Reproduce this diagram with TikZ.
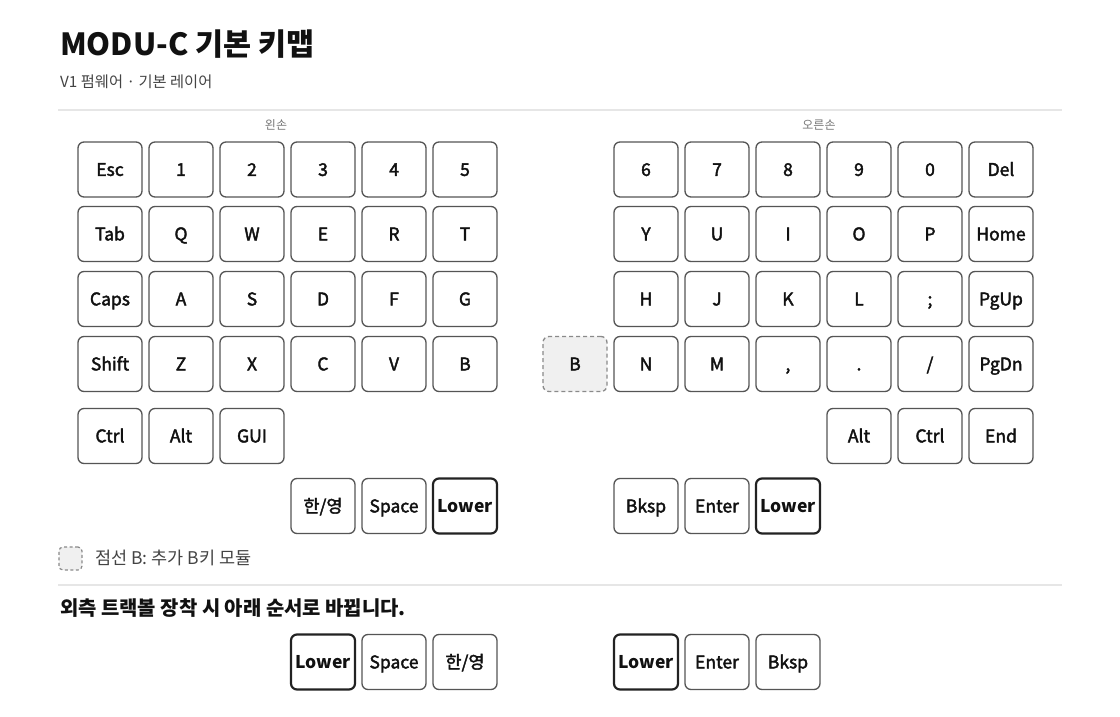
\documentclass[tikz,border=0pt]{standalone}
\usepackage{fontspec}
\setmainfont{Noto Sans CJK KR}
\newfontfamily\keyfont{Noto Sans CJK KR}[FakeBold=2.2]
\definecolor{keyline}{HTML}{555555}
\definecolor{keydark}{HTML}{222222}
\definecolor{keytext}{HTML}{111111}
\definecolor{rulegray}{HTML}{E6E6E6}
\definecolor{subgray}{HTML}{444444}
\definecolor{handgray}{HTML}{777777}
\definecolor{dashgray}{HTML}{8A8A8A}
\definecolor{dashfill}{HTML}{F0F0F0}
\begin{document}
\begin{tikzpicture}[x=1pt,y=-1pt,
  key/.style={draw=keyline, line width=1.3pt, rounded corners=6pt, fill=white,
    minimum width=64pt, minimum height=55pt, inner sep=0pt,
    text=keytext, font=\keyfont\fontsize{17.5}{17.5}\selectfont, text height=12.8pt, text depth=0pt},
  lowerkey/.style={key, draw=keydark, line width=2.2pt, font=\bfseries\fontsize{17.5}{17.5}\selectfont},
  extrakey/.style={key, draw=dashgray, dashed, dash pattern=on 4pt off 3pt, fill=dashfill},
  divider/.style={draw=rulegray, line width=1.5pt},
  handlabel/.style={text=handgray, font=\fontsize{12}{12}\selectfont, inner sep=0pt}
]
\useasboundingbox (0,0) rectangle (1120,717);
\fill[white] (0,0) rectangle (1120,717);

% title
\node[anchor=base west, inner sep=0pt, text=keytext, font=\bfseries\fontsize{30.5}{30.5}\selectfont] (title) at (60,56) {MODU-C 기본 키맵};
\node[anchor=base west, inner sep=0pt, text=subgray, font=\fontsize{15.3}{15.3}\selectfont] (subtitle) at (60,88) {V1 펌웨어 · 기본 레이어};
\coordinate (r1a) at (58,110);
\coordinate (r1b) at (1062,110);
\draw[divider] (r1a) -- (r1b);

\node[handlabel] (lefthand) at (276,125) {왼손};
\node[handlabel] (righthand) at (819,125) {오른손};

% left half
\foreach \t [count=\i from 0] in {Esc,1,2,3,4,5}
  \node[key] (lA\i) at (110+71*\i,169.5) {\t};
\foreach \t [count=\i from 0] in {Tab,Q,W,E,R,T}
  \node[key] (lB\i) at (110+71*\i,234) {\t};
\foreach \t [count=\i from 0] in {Caps,A,S,D,F,G}
  \node[key] (lC\i) at (110+71*\i,299) {\t};
\foreach \t [count=\i from 0] in {Shift,Z,X,C,V,B}
  \node[key] (lD\i) at (110+71*\i,364) {\t};
\foreach \t [count=\i from 0] in {Ctrl,Alt,GUI}
  \node[key] (lE\i) at (110+71*\i,436) {\t};

% right half
\foreach \t [count=\i from 0] in {6,7,8,9,0,Del}
  \node[key] (rA\i) at (646+71*\i,169.5) {\t};
\foreach \t [count=\i from 0] in {Y,U,I,O,P,Home}
  \node[key] (rB\i) at (646+71*\i,234) {\t};
\foreach \t [count=\i from 0] in {H,J,K,L,;,PgUp}
  \node[key] (rC\i) at (646+71*\i,299) {\t};
\foreach \t [count=\i from 0] in {N,M,{,},.,/,PgDn}
  \node[key] (rD\i) at (646+71*\i,364) {\t};
\node[key] (rE3) at (859,436) {Alt};
\node[key] (rE4) at (930,436) {Ctrl};
\node[key] (rE5) at (1001,436) {End};

% extra B
\node[extrakey] (xB) at (575,364) {B};

% thumbs
\node[key] (lT0) at (323,506) {한/영};
\node[key] (lT1) at (394,506) {Space};
\node[lowerkey] (lT2) at (465,506) {Lower};
\node[key] (rT0) at (646,506) {Bksp};
\node[key] (rT1) at (717,506) {Enter};
\node[lowerkey] (rT2) at (788,506) {Lower};

% legend
\node[draw=dashgray, line width=1.2pt, dash pattern=on 3pt off 2.5pt, fill=dashfill, rounded corners=4pt,
  minimum width=23pt, minimum height=23pt, inner sep=0pt] (legbox) at (70.5,558.5) {};
\node[anchor=base west, inner sep=0pt, text=subgray, font=\fontsize{17.5}{17.5}\selectfont] (legtext) at (95,564) {점선 B: 추가 B키 모듈};
\coordinate (r2a) at (58,585);
\coordinate (r2b) at (1062,585);
\draw[divider] (r2a) -- (r2b);

\node[anchor=base west, inner sep=0pt, text=keytext, font=\bfseries\fontsize{19.9}{19.9}\selectfont] (note) at (60,615) {외측 트랙볼 장착 시 아래 순서로 바뀝니다.};

% alternate thumbs
\node[lowerkey] (aL0) at (323,662) {Lower};
\node[key] (aL1) at (394,662) {Space};
\node[key] (aL2) at (465,662) {한/영};
\node[lowerkey] (aR0) at (646,662) {Lower};
\node[key] (aR1) at (717,662) {Enter};
\node[key] (aR2) at (788,662) {Bksp};
\end{tikzpicture}
\end{document}
